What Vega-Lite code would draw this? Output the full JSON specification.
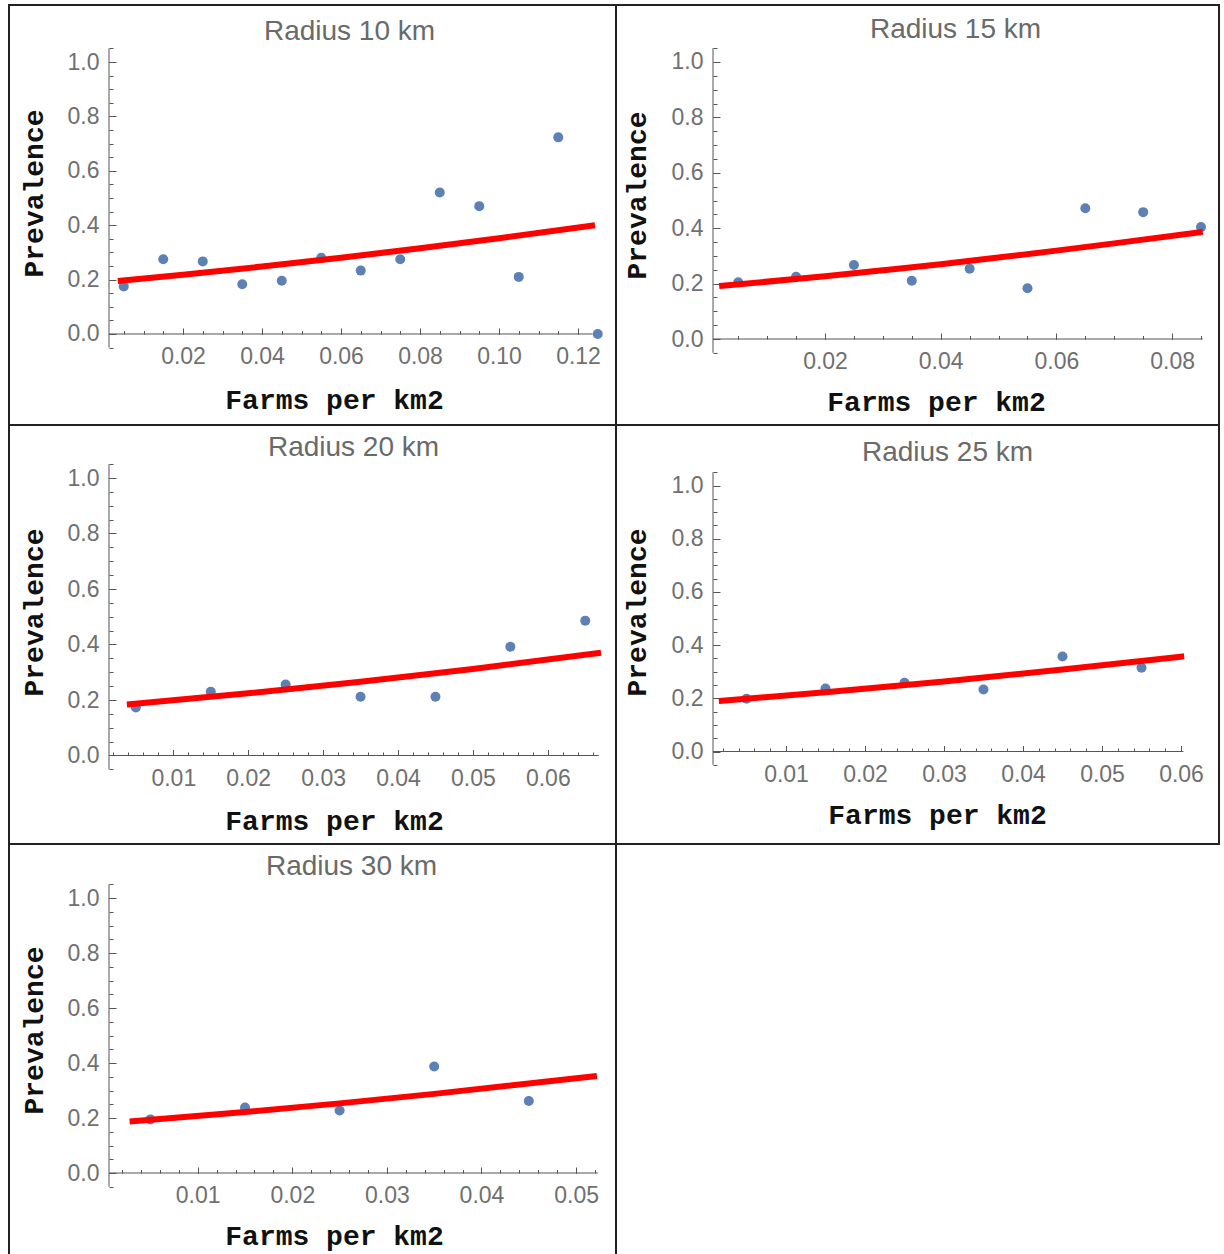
{
  "$schema": "https://vega.github.io/schema/vega-lite/v6.json",
  "padding": {"left": 8, "top": 4, "right": 0, "bottom": 0},
  "background": "white",
  "config": {
    "view": {"stroke": "#222222", "strokeWidth": 2, "fill": "white"},
    "axis": {"grid": false, "domain": false, "tickColor": "#555555", "tickWidth": 1, "labelFlush": false, "labelOverlap": false, "labelFont": "Liberation Sans", "labelFontSize": 23, "labelColor": "#707070", "titleFont": "Liberation Mono", "titleFontSize": 28, "titleFontWeight": "bold", "titleColor": "#111111", "titleBaseline": "middle", "titleAlign": "center"},
    "title": {"font": "Liberation Sans", "fontSize": 28, "fontWeight": "normal", "color": "#6a6a6a", "anchor": "middle", "frame": "group", "baseline": "middle"}
  },
  "datasets": {
    "points": [
      {"radius": 10, "density": 0.005, "prevalence": 0.175},
      {"radius": 10, "density": 0.015, "prevalence": 0.275},
      {"radius": 10, "density": 0.025, "prevalence": 0.267},
      {"radius": 10, "density": 0.035, "prevalence": 0.183},
      {"radius": 10, "density": 0.045, "prevalence": 0.196},
      {"radius": 10, "density": 0.055, "prevalence": 0.28},
      {"radius": 10, "density": 0.065, "prevalence": 0.233},
      {"radius": 10, "density": 0.075, "prevalence": 0.275},
      {"radius": 10, "density": 0.085, "prevalence": 0.52},
      {"radius": 10, "density": 0.095, "prevalence": 0.47},
      {"radius": 10, "density": 0.105, "prevalence": 0.21},
      {"radius": 10, "density": 0.115, "prevalence": 0.723},
      {"radius": 10, "density": 0.125, "prevalence": 0.0},
      {"radius": 15, "density": 0.005, "prevalence": 0.205},
      {"radius": 15, "density": 0.015, "prevalence": 0.225},
      {"radius": 15, "density": 0.025, "prevalence": 0.267},
      {"radius": 15, "density": 0.035, "prevalence": 0.21},
      {"radius": 15, "density": 0.045, "prevalence": 0.254},
      {"radius": 15, "density": 0.055, "prevalence": 0.183},
      {"radius": 15, "density": 0.065, "prevalence": 0.472},
      {"radius": 15, "density": 0.075, "prevalence": 0.458},
      {"radius": 15, "density": 0.085, "prevalence": 0.404},
      {"radius": 20, "density": 0.005, "prevalence": 0.173},
      {"radius": 20, "density": 0.015, "prevalence": 0.23},
      {"radius": 20, "density": 0.025, "prevalence": 0.256},
      {"radius": 20, "density": 0.035, "prevalence": 0.212},
      {"radius": 20, "density": 0.045, "prevalence": 0.212},
      {"radius": 20, "density": 0.055, "prevalence": 0.392},
      {"radius": 20, "density": 0.065, "prevalence": 0.486},
      {"radius": 25, "density": 0.005, "prevalence": 0.198},
      {"radius": 25, "density": 0.015, "prevalence": 0.237},
      {"radius": 25, "density": 0.025, "prevalence": 0.258},
      {"radius": 25, "density": 0.035, "prevalence": 0.233},
      {"radius": 25, "density": 0.045, "prevalence": 0.357},
      {"radius": 25, "density": 0.055, "prevalence": 0.315},
      {"radius": 30, "density": 0.005, "prevalence": 0.195},
      {"radius": 30, "density": 0.015, "prevalence": 0.238},
      {"radius": 30, "density": 0.025, "prevalence": 0.227},
      {"radius": 30, "density": 0.035, "prevalence": 0.387},
      {"radius": 30, "density": 0.045, "prevalence": 0.262}
    ],
    "fit": [
      {"radius": 10, "density": 0.0035, "prevalence": 0.195},
      {"radius": 10, "density": 0.02, "prevalence": 0.218},
      {"radius": 10, "density": 0.04, "prevalence": 0.248},
      {"radius": 10, "density": 0.06, "prevalence": 0.28},
      {"radius": 10, "density": 0.08, "prevalence": 0.315},
      {"radius": 10, "density": 0.1, "prevalence": 0.352},
      {"radius": 10, "density": 0.1243, "prevalence": 0.4},
      {"radius": 15, "density": 0.0017, "prevalence": 0.191},
      {"radius": 15, "density": 0.02, "prevalence": 0.2265},
      {"radius": 15, "density": 0.03, "prevalence": 0.2478},
      {"radius": 15, "density": 0.04, "prevalence": 0.27},
      {"radius": 15, "density": 0.05, "prevalence": 0.2942},
      {"radius": 15, "density": 0.06, "prevalence": 0.319},
      {"radius": 15, "density": 0.07, "prevalence": 0.3452},
      {"radius": 15, "density": 0.0853, "prevalence": 0.387},
      {"radius": 20, "density": 0.0038, "prevalence": 0.184},
      {"radius": 20, "density": 0.02, "prevalence": 0.224},
      {"radius": 20, "density": 0.035, "prevalence": 0.266},
      {"radius": 20, "density": 0.05, "prevalence": 0.312},
      {"radius": 20, "density": 0.0671, "prevalence": 0.37},
      {"radius": 25, "density": 0.0015, "prevalence": 0.19},
      {"radius": 25, "density": 0.015, "prevalence": 0.2225},
      {"radius": 25, "density": 0.03, "prevalence": 0.263},
      {"radius": 25, "density": 0.045, "prevalence": 0.308},
      {"radius": 25, "density": 0.0604, "prevalence": 0.358},
      {"radius": 30, "density": 0.0028, "prevalence": 0.187},
      {"radius": 30, "density": 0.015, "prevalence": 0.2216},
      {"radius": 30, "density": 0.025, "prevalence": 0.2532},
      {"radius": 30, "density": 0.035, "prevalence": 0.2877},
      {"radius": 30, "density": 0.0522, "prevalence": 0.353}
    ]
  },
  "columns": 2,
  "spacing": 0,
  "bounds": "flush",
  "concat": [
        {
          "width": 607, "height": 420,
          "title": {"text": "Radius 10 km", "offset": -41, "dx": 37},
          "resolve": {"axis": {"x": "independent", "y": "independent"}},
          "layer": [
            {"data": {"values": [{}]}, "mark": {"type": "rule", "color": "#555555", "strokeWidth": 1},
             "encoding": {"x": {"datum": 0.001266, "type": "quantitative", "scale": {"domain": [-0.024051, 0.12962], "nice": false, "zero": false}, "axis": null},
                          "y": {"datum": -0.05, "type": "quantitative", "scale": {"domain": [-0.334559, 1.209559], "nice": false, "zero": false}, "axis": null},
                          "y2": {"datum": 1.05}}},
            {"data": {"values": [{}]}, "mark": {"type": "rule", "color": "#555555", "strokeWidth": 1},
             "encoding": {"x": {"datum": 0.001266, "type": "quantitative", "scale": {"domain": [-0.024051, 0.12962], "nice": false, "zero": false}, "axis": null},
                          "x2": {"datum": 0.1237},
                          "y": {"datum": 0, "type": "quantitative", "scale": {"domain": [-0.334559, 1.209559], "nice": false, "zero": false}, "axis": null}}},
            {"data": {"name": "points"}, "transform": [{"filter": "datum.radius == 10"}],
             "mark": {"type": "point", "filled": true, "size": 100, "color": "#5E81B5", "opacity": 1},
             "encoding": {
               "x": {"field": "density", "type": "quantitative", "scale": {"domain": [-0.024051, 0.12962], "nice": false, "zero": false},
                     "axis": {"orient": "bottom", "values": [0.02, 0.04, 0.06, 0.08, 0.1, 0.12], "format": ".2f", "offset": -91, "tickSize": -6, "labelPadding": 17.5, "title": "Farms per km2", "titleX": 325, "titleY": 66}},
               "y": {"field": "prevalence", "type": "quantitative", "scale": {"domain": [-0.334559, 1.209559], "nice": false, "zero": false},
                     "axis": {"orient": "left", "values": [0, 0.2, 0.4, 0.6, 0.8, 1.0], "format": ".1f", "offset": -100, "tickSize": -7, "labelPadding": 17, "title": "Prevalence", "titleX": -75, "titleY": 188, "titleAngle": -90}}
             }},
            {"data": {"name": "fit"}, "transform": [{"filter": "datum.radius == 10"}],
             "mark": {"type": "line", "color": "#FF0000", "strokeWidth": 6, "interpolate": "monotone"},
             "encoding": {
               "x": {"field": "density", "type": "quantitative", "scale": {"domain": [-0.024051, 0.12962], "nice": false, "zero": false},
                     "axis": {"orient": "bottom", "values": [0.005, 0.01, 0.015, 0.02, 0.025, 0.03, 0.035, 0.04, 0.045, 0.05, 0.055, 0.06, 0.065, 0.07, 0.075, 0.08, 0.085, 0.09, 0.095, 0.1, 0.105, 0.11, 0.115, 0.12], "offset": -91, "tickSize": -3.5, "labels": false, "title": null}},
               "y": {"field": "prevalence", "type": "quantitative", "scale": {"domain": [-0.334559, 1.209559], "nice": false, "zero": false},
                     "axis": {"orient": "left", "values": [-0.05, 0, 0.05, 0.1, 0.15, 0.2, 0.25, 0.3, 0.35, 0.4, 0.45, 0.5, 0.55, 0.6, 0.65, 0.7, 0.75, 0.8, 0.85, 0.9, 0.95, 1.0, 1.05], "offset": -100, "tickSize": -4, "labels": false, "title": null}}
             }}
          ]
        },
        {
          "width": 603, "height": 420,
          "title": {"text": "Radius 15 km", "offset": -39, "dx": 38},
          "resolve": {"axis": {"x": "independent", "y": "independent"}},
          "layer": [
            {"data": {"values": [{}]}, "mark": {"type": "rule", "color": "#555555", "strokeWidth": 1},
             "encoding": {"x": {"datum": 0.00064, "type": "quantitative", "scale": {"domain": [-0.016128, 0.088107], "nice": false, "zero": false}, "axis": null},
                          "y": {"datum": -0.05, "type": "quantitative", "scale": {"domain": [-0.310469, 1.205776], "nice": false, "zero": false}, "axis": null},
                          "y2": {"datum": 1.05}}},
            {"data": {"values": [{}]}, "mark": {"type": "rule", "color": "#555555", "strokeWidth": 1},
             "encoding": {"x": {"datum": 0.00064, "type": "quantitative", "scale": {"domain": [-0.016128, 0.088107], "nice": false, "zero": false}, "axis": null},
                          "x2": {"datum": 0.0853},
                          "y": {"datum": 0, "type": "quantitative", "scale": {"domain": [-0.310469, 1.205776], "nice": false, "zero": false}, "axis": null}}},
            {"data": {"name": "points"}, "transform": [{"filter": "datum.radius == 15"}],
             "mark": {"type": "point", "filled": true, "size": 100, "color": "#5E81B5", "opacity": 1},
             "encoding": {
               "x": {"field": "density", "type": "quantitative", "scale": {"domain": [-0.016128, 0.088107], "nice": false, "zero": false},
                     "axis": {"orient": "bottom", "values": [0.02, 0.04, 0.06, 0.08], "format": ".2f", "offset": -86, "tickSize": -6, "labelPadding": 17.5, "title": "Farms per km2", "titleX": 320, "titleY": 63}},
               "y": {"field": "prevalence", "type": "quantitative", "scale": {"domain": [-0.310469, 1.205776], "nice": false, "zero": false},
                     "axis": {"orient": "left", "values": [0, 0.2, 0.4, 0.6, 0.8, 1.0], "format": ".1f", "offset": -97, "tickSize": -7, "labelPadding": 17, "title": "Prevalence", "titleX": -76, "titleY": 190, "titleAngle": -90}}
             }},
            {"data": {"name": "fit"}, "transform": [{"filter": "datum.radius == 15"}],
             "mark": {"type": "line", "color": "#FF0000", "strokeWidth": 6, "interpolate": "monotone"},
             "encoding": {
               "x": {"field": "density", "type": "quantitative", "scale": {"domain": [-0.016128, 0.088107], "nice": false, "zero": false},
                     "axis": {"orient": "bottom", "values": [0.005, 0.01, 0.015, 0.02, 0.025, 0.03, 0.035, 0.04, 0.045, 0.05, 0.055, 0.06, 0.065, 0.07, 0.075, 0.08, 0.085], "offset": -86, "tickSize": -3.5, "labels": false, "title": null}},
               "y": {"field": "prevalence", "type": "quantitative", "scale": {"domain": [-0.310469, 1.205776], "nice": false, "zero": false},
                     "axis": {"orient": "left", "values": [-0.05, 0, 0.05, 0.1, 0.15, 0.2, 0.25, 0.3, 0.35, 0.4, 0.45, 0.5, 0.55, 0.6, 0.65, 0.7, 0.75, 0.8, 0.85, 0.9, 0.95, 1.0, 1.05], "offset": -97, "tickSize": -4, "labels": false, "title": null}}
             }}
          ]
        },
        {
          "width": 607, "height": 419,
          "title": {"text": "Radius 20 km", "offset": -37, "dx": 41},
          "resolve": {"axis": {"x": "independent", "y": "independent"}},
          "layer": [
            {"data": {"values": [{}]}, "mark": {"type": "rule", "color": "#555555", "strokeWidth": 1},
             "encoding": {"x": {"datum": 0.001415, "type": "quantitative", "scale": {"domain": [-0.011936, 0.069105], "nice": false, "zero": false}, "axis": null},
                          "y": {"datum": -0.05, "type": "quantitative", "scale": {"domain": [-0.318919, 1.190991], "nice": false, "zero": false}, "axis": null},
                          "y2": {"datum": 1.05}}},
            {"data": {"values": [{}]}, "mark": {"type": "rule", "color": "#555555", "strokeWidth": 1},
             "encoding": {"x": {"datum": 0.001415, "type": "quantitative", "scale": {"domain": [-0.011936, 0.069105], "nice": false, "zero": false}, "axis": null},
                          "x2": {"datum": 0.0668},
                          "y": {"datum": 0, "type": "quantitative", "scale": {"domain": [-0.318919, 1.190991], "nice": false, "zero": false}, "axis": null}}},
            {"data": {"name": "points"}, "transform": [{"filter": "datum.radius == 20"}],
             "mark": {"type": "point", "filled": true, "size": 100, "color": "#5E81B5", "opacity": 1},
             "encoding": {
               "x": {"field": "density", "type": "quantitative", "scale": {"domain": [-0.011936, 0.069105], "nice": false, "zero": false},
                     "axis": {"orient": "bottom", "values": [0.01, 0.02, 0.03, 0.04, 0.05, 0.06], "format": ".2f", "offset": -88.5, "tickSize": -6, "labelPadding": 17.5, "title": "Farms per km2", "titleX": 325, "titleY": 65.5}},
               "y": {"field": "prevalence", "type": "quantitative", "scale": {"domain": [-0.318919, 1.190991], "nice": false, "zero": false},
                     "axis": {"orient": "left", "values": [0, 0.2, 0.4, 0.6, 0.8, 1.0], "format": ".1f", "offset": -100, "tickSize": -7, "labelPadding": 17, "title": "Prevalence", "titleX": -75, "titleY": 187, "titleAngle": -90}}
             }},
            {"data": {"name": "fit"}, "transform": [{"filter": "datum.radius == 20"}],
             "mark": {"type": "line", "color": "#FF0000", "strokeWidth": 6, "interpolate": "monotone"},
             "encoding": {
               "x": {"field": "density", "type": "quantitative", "scale": {"domain": [-0.011936, 0.069105], "nice": false, "zero": false},
                     "axis": {"orient": "bottom", "values": [0.002, 0.004, 0.006, 0.008, 0.01, 0.012, 0.014, 0.016, 0.018, 0.02, 0.022, 0.024, 0.026, 0.028, 0.03, 0.032, 0.034, 0.036, 0.038, 0.04, 0.042, 0.044, 0.046, 0.048, 0.05, 0.052, 0.054, 0.056, 0.058, 0.06, 0.062, 0.064, 0.066], "offset": -88.5, "tickSize": -3.5, "labels": false, "title": null}},
               "y": {"field": "prevalence", "type": "quantitative", "scale": {"domain": [-0.318919, 1.190991], "nice": false, "zero": false},
                     "axis": {"orient": "left", "values": [-0.05, 0, 0.05, 0.1, 0.15, 0.2, 0.25, 0.3, 0.35, 0.4, 0.45, 0.5, 0.55, 0.6, 0.65, 0.7, 0.75, 0.8, 0.85, 0.9, 0.95, 1.0, 1.05], "offset": -100, "tickSize": -4, "labels": false, "title": null}}
             }}
          ]
        },
        {
          "width": 603, "height": 419,
          "title": {"text": "Radius 25 km", "offset": -42, "dx": 30},
          "resolve": {"axis": {"x": "independent", "y": "independent"}},
          "layer": [
            {"data": {"values": [{}]}, "mark": {"type": "rule", "color": "#555555", "strokeWidth": 1},
             "encoding": {"x": {"datum": 0.00076, "type": "quantitative", "scale": {"domain": [-0.011519, 0.06481], "nice": false, "zero": false}, "axis": null},
                          "y": {"datum": -0.05, "type": "quantitative", "scale": {"domain": [-0.347744, 1.227444], "nice": false, "zero": false}, "axis": null},
                          "y2": {"datum": 1.05}}},
            {"data": {"values": [{}]}, "mark": {"type": "rule", "color": "#555555", "strokeWidth": 1},
             "encoding": {"x": {"datum": 0.00076, "type": "quantitative", "scale": {"domain": [-0.011519, 0.06481], "nice": false, "zero": false}, "axis": null},
                          "x2": {"datum": 0.0603},
                          "y": {"datum": 0, "type": "quantitative", "scale": {"domain": [-0.347744, 1.227444], "nice": false, "zero": false}, "axis": null}}},
            {"data": {"name": "points"}, "transform": [{"filter": "datum.radius == 25"}],
             "mark": {"type": "point", "filled": true, "size": 100, "color": "#5E81B5", "opacity": 1},
             "encoding": {
               "x": {"field": "density", "type": "quantitative", "scale": {"domain": [-0.011519, 0.06481], "nice": false, "zero": false},
                     "axis": {"orient": "bottom", "values": [0.01, 0.02, 0.03, 0.04, 0.05, 0.06], "format": ".2f", "offset": -92.5, "tickSize": -6, "labelPadding": 17.5, "title": "Farms per km2", "titleX": 321, "titleY": 63.5}},
               "y": {"field": "prevalence", "type": "quantitative", "scale": {"domain": [-0.347744, 1.227444], "nice": false, "zero": false},
                     "axis": {"orient": "left", "values": [0, 0.2, 0.4, 0.6, 0.8, 1.0], "format": ".1f", "offset": -97, "tickSize": -7, "labelPadding": 17, "title": "Prevalence", "titleX": -76, "titleY": 187, "titleAngle": -90}}
             }},
            {"data": {"name": "fit"}, "transform": [{"filter": "datum.radius == 25"}],
             "mark": {"type": "line", "color": "#FF0000", "strokeWidth": 6, "interpolate": "monotone"},
             "encoding": {
               "x": {"field": "density", "type": "quantitative", "scale": {"domain": [-0.011519, 0.06481], "nice": false, "zero": false},
                     "axis": {"orient": "bottom", "values": [0.002, 0.004, 0.006, 0.008, 0.01, 0.012, 0.014, 0.016, 0.018, 0.02, 0.022, 0.024, 0.026, 0.028, 0.03, 0.032, 0.034, 0.036, 0.038, 0.04, 0.042, 0.044, 0.046, 0.048, 0.05, 0.052, 0.054, 0.056, 0.058, 0.06], "offset": -92.5, "tickSize": -3.5, "labels": false, "title": null}},
               "y": {"field": "prevalence", "type": "quantitative", "scale": {"domain": [-0.347744, 1.227444], "nice": false, "zero": false},
                     "axis": {"orient": "left", "values": [-0.05, 0, 0.05, 0.1, 0.15, 0.2, 0.25, 0.3, 0.35, 0.4, 0.45, 0.5, 0.55, 0.6, 0.65, 0.7, 0.75, 0.8, 0.85, 0.9, 0.95, 1.0, 1.05], "offset": -97, "tickSize": -4, "labels": false, "title": null}}
             }}
          ]
        },
        {
          "width": 607, "height": 420,
          "title": {"text": "Radius 30 km", "offset": -37, "dx": 39},
          "resolve": {"axis": {"x": "independent", "y": "independent"}},
          "layer": [
            {"data": {"values": [{}]}, "mark": {"type": "rule", "color": "#555555", "strokeWidth": 1},
             "encoding": {"x": {"datum": 0.000624, "type": "quantitative", "scale": {"domain": [-0.009947, 0.054218], "nice": false, "zero": false}, "axis": null},
                          "y": {"datum": -0.05, "type": "quantitative", "scale": {"domain": [-0.330909, 1.196364], "nice": false, "zero": false}, "axis": null},
                          "y2": {"datum": 1.05}}},
            {"data": {"values": [{}]}, "mark": {"type": "rule", "color": "#555555", "strokeWidth": 1},
             "encoding": {"x": {"datum": 0.000624, "type": "quantitative", "scale": {"domain": [-0.009947, 0.054218], "nice": false, "zero": false}, "axis": null},
                          "x2": {"datum": 0.0523},
                          "y": {"datum": 0, "type": "quantitative", "scale": {"domain": [-0.330909, 1.196364], "nice": false, "zero": false}, "axis": null}}},
            {"data": {"name": "points"}, "transform": [{"filter": "datum.radius == 30"}],
             "mark": {"type": "point", "filled": true, "size": 100, "color": "#5E81B5", "opacity": 1},
             "encoding": {
               "x": {"field": "density", "type": "quantitative", "scale": {"domain": [-0.009947, 0.054218], "nice": false, "zero": false},
                     "axis": {"orient": "bottom", "values": [0.01, 0.02, 0.03, 0.04, 0.05], "format": ".2f", "offset": -91, "tickSize": -6, "labelPadding": 17.5, "title": "Farms per km2", "titleX": 325, "titleY": 63}},
               "y": {"field": "prevalence", "type": "quantitative", "scale": {"domain": [-0.330909, 1.196364], "nice": false, "zero": false},
                     "axis": {"orient": "left", "values": [0, 0.2, 0.4, 0.6, 0.8, 1.0], "format": ".1f", "offset": -100, "tickSize": -7, "labelPadding": 17, "title": "Prevalence", "titleX": -75, "titleY": 186, "titleAngle": -90}}
             }},
            {"data": {"name": "fit"}, "transform": [{"filter": "datum.radius == 30"}],
             "mark": {"type": "line", "color": "#FF0000", "strokeWidth": 6, "interpolate": "monotone"},
             "encoding": {
               "x": {"field": "density", "type": "quantitative", "scale": {"domain": [-0.009947, 0.054218], "nice": false, "zero": false},
                     "axis": {"orient": "bottom", "values": [0.002, 0.004, 0.006, 0.008, 0.01, 0.012, 0.014, 0.016, 0.018, 0.02, 0.022, 0.024, 0.026, 0.028, 0.03, 0.032, 0.034, 0.036, 0.038, 0.04, 0.042, 0.044, 0.046, 0.048, 0.05, 0.052], "offset": -91, "tickSize": -3.5, "labels": false, "title": null}},
               "y": {"field": "prevalence", "type": "quantitative", "scale": {"domain": [-0.330909, 1.196364], "nice": false, "zero": false},
                     "axis": {"orient": "left", "values": [-0.05, 0, 0.05, 0.1, 0.15, 0.2, 0.25, 0.3, 0.35, 0.4, 0.45, 0.5, 0.55, 0.6, 0.65, 0.7, 0.75, 0.8, 0.85, 0.9, 0.95, 1.0, 1.05], "offset": -100, "tickSize": -4, "labels": false, "title": null}}
             }}
          ]
        },
        {
          "width": 603, "height": 420,
          "data": {"values": [{"blank": 1}]},
          "mark": {"type": "point", "opacity": 0},
          "encoding": {}
        }
  ]
}
